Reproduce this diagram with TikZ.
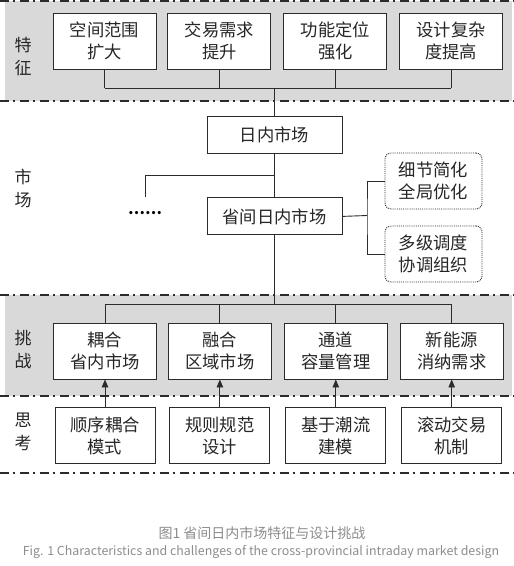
\documentclass[tikz,border=0pt]{standalone}
\usepackage{fontspec}
\setmainfont{Noto Sans CJK SC}
\usepackage{tikz}
\usetikzlibrary{arrows.meta, positioning, calc}
\definecolor{bandgray}{HTML}{D9D9D9}
\definecolor{linegray}{HTML}{2B2B2B}
\definecolor{capgray}{HTML}{8C8C8C}
\tikzset{
  box/.style={rectangle, draw=linegray, line width=0.9pt, fill=white, text=black!85,
              minimum height=56pt, minimum width=103pt, inner sep=0pt, align=center,
              font=\fontsize{17.3}{22}\selectfont},
  mbox/.style={box, minimum height=37pt, minimum width=135pt},
  notebox/.style={box, densely dotted, rounded corners=6pt, minimum width=97pt},
  sidelabel/.style={align=center, text=black!85, font=\fontsize{17}{23}\selectfont},
  link/.style={draw=linegray, line width=0.9pt},
  uparrow/.style={-{Triangle[length=8pt, width=6.5pt]}, draw=linegray, line width=0.9pt},
  sepline/.style={draw=linegray, line width=1.1pt, dash pattern=on 9pt off 4pt on 2pt off 5pt}
}

\begin{document}
\begin{tikzpicture}[x=1pt, y=-1pt, node distance=28pt and 11pt]
  \useasboundingbox (0,0) rectangle (514,566);

  % bands
  \fill[bandgray] (5,1) rectangle (512,101);
  \fill[bandgray] (5,295) rectangle (512,396);
  \foreach \yy in {1,101,295,396,473}
    \draw[sepline] (0,\yy) -- (514,\yy);

  % side labels
  \node[sidelabel] (lfeat) at (23,57) {特\\征};
  \node[sidelabel] (lmkt) at (23,188) {市\\场};
  \node[sidelabel] (lchal) at (23,350) {挑\\战};
  \node[sidelabel] (lthink) at (23,432) {思\\考};

  % features
  \node[box] (feat1) at (104.5,41) {空间范围\\扩大};
  \node[box, right=11pt of feat1] (feat2) {交易需求\\提升};
  \node[box, right=12pt of feat2] (feat3) {功能定位\\强化};
  \node[box, right=12pt of feat3] (feat4) {设计复杂\\度提高};

  % market
  \node[mbox] (intra) at (274.5,134.5) {日内市场};
  \node[mbox, below=44pt of intra] (inter) {省间日内市场};
  \node (dots) at (145,213) {\fontsize{15}{15}\selectfont\bfseries ……};
  \node[notebox] (simp) at (433.5,181) {细节简化\\全局优化};
  \node[notebox] (multi) at (433.5,254) {多级调度\\协调组织};

  % challenges
  \node[box] (chal1) at (105,351) {耦合\\省内市场};
  \node[box, right=11pt of chal1] (chal2) {融合\\区域市场};
  \node[box, right=12pt of chal2] (chal3) {通道\\容量管理};
  \node[box, right=12pt of chal3] (chal4) {新能源\\消纳需求};

  % thinking
  \node[box, minimum width=100pt, below=of chal1] (think1) {顺序耦合\\模式};
  \node[box, minimum width=100pt, below=of chal2] (think2) {规则规范\\设计};
  \node[box, minimum width=100pt, below=of chal3] (think3) {基于潮流\\建模};
  \node[box, minimum width=100pt, below=of chal4] (think4) {滚动交易\\机制};

  % caption
  \node[text=capgray, font=\fontsize{14}{16}\selectfont] (cap1) at (262,533) {图1 省间日内市场特征与设计挑战};
  \node[text=capgray, font=\fontsize{12.4}{14}\selectfont] (cap2) at (261,552) {Fig. 1 Characteristics and challenges of the cross-provincial intraday market design};

  % connectors
  \coordinate (fbus) at (274.5,88);
  \coordinate (cbus) at (274.5,304);
  \foreach \i in {1,...,4} {
    \draw[link] (feat\i.south) -- (feat\i.south |- fbus);
    \draw[link] (chal\i.north) -- (chal\i.north |- cbus);
    \draw[uparrow] (think\i.north) -- (chal\i.south);
  }
  \draw[link] (feat1.south |- fbus) -- (feat4.south |- fbus);
  \draw[link] (chal1.north |- cbus) -- (chal4.north |- cbus);
  \draw[link] (fbus) -- (intra.north);
  \draw[link] (intra.south) -- (inter.north);
  \coordinate (split) at (274.5,175);
  \draw[link] (split) -- (145,175) -- (145,197);
  \coordinate (fork) at (367,215.5);
  \draw[link] (inter.east) -- (fork);
  \draw[link] (simp.west) -| (fork) |- (multi.west);
  \draw[link] (inter.south) -- (cbus);
\end{tikzpicture}
\end{document}
